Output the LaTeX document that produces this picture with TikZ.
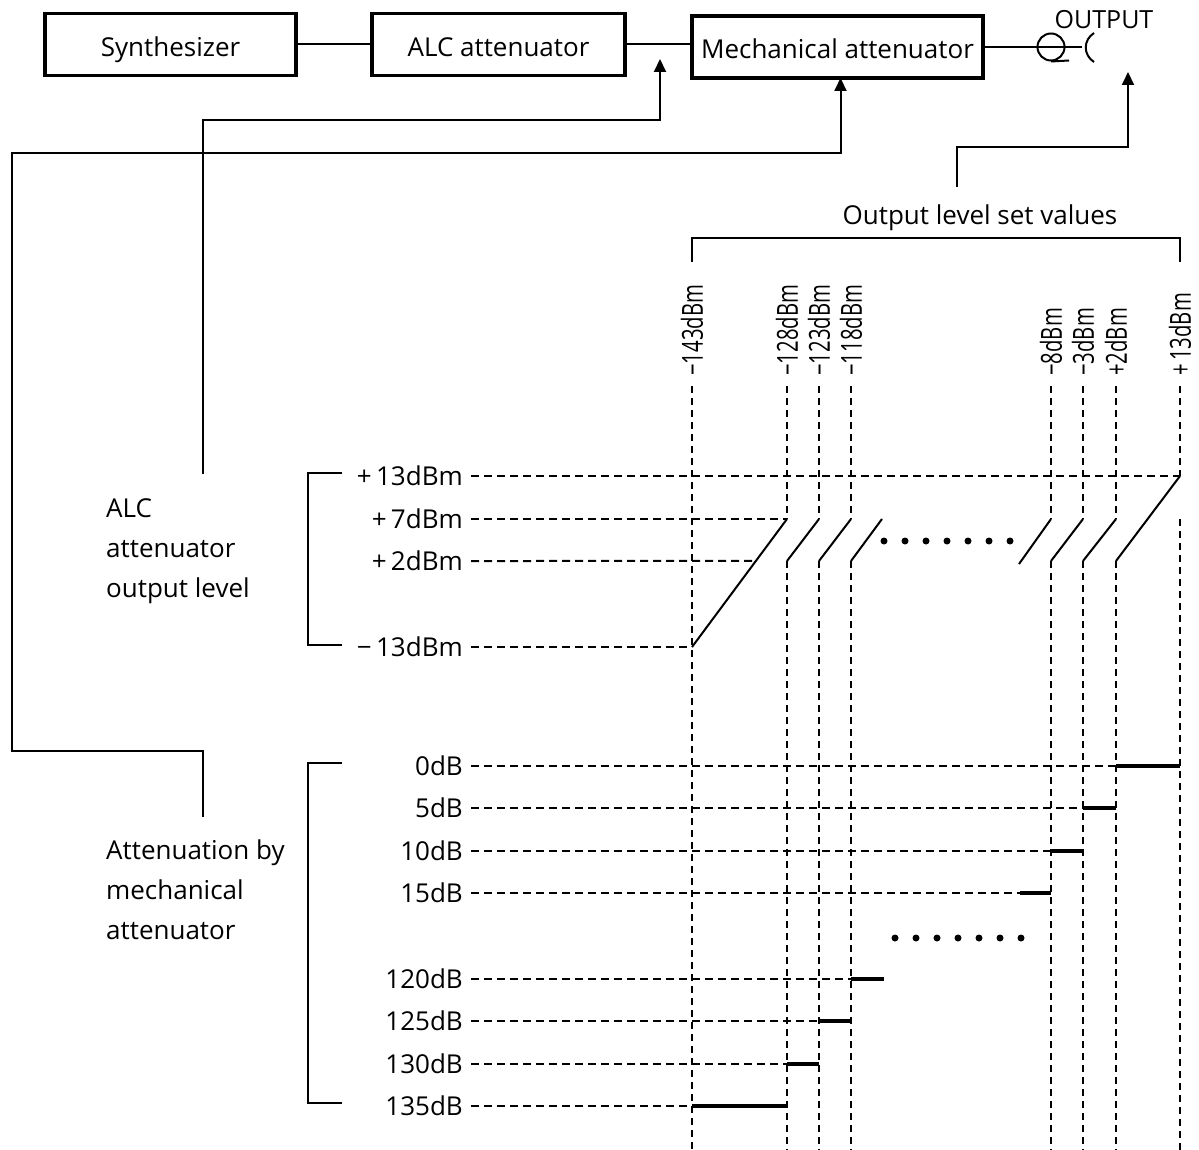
\documentclass[tikz,border=0pt]{standalone}
\usepackage{fontspec}
\setmainfont{Open Sans}
\usetikzlibrary{positioning, arrows.meta, calc}
\tikzset{
  block/.style={rectangle, draw=black, line width=3.8pt, minimum height=62pt, text height=24pt, text depth=0pt, text centered, inner sep=6pt, outer sep=0pt},
  wire/.style={line width=2pt},
  ctrl/.style={line width=2pt,-{Triangle[length=13pt,width=12pt]}},
  grid/.style={line width=2pt, dash pattern=on 8pt off 5pt},
  vgrid/.style={line width=2pt, dash pattern=on 7pt off 5pt},
  bar/.style={line width=3.8pt},
  lvl/.style={anchor=east, text height=19pt, text depth=0pt},
  collbl/.style={rotate=90, anchor=west, font=\fontsize{29pt}{32pt}\selectfont},
  dot/.style={circle, fill=black, minimum size=7pt}
}
\newcommand{\narrow}[1]{\scalebox{0.7}[1]{#1}}
\begin{document}
\begin{tikzpicture}[x=1pt, y=-1pt, every node/.style={font=\fontsize{26pt}{40pt}\selectfont, inner sep=0pt}]
        \useasboundingbox (0,0) rectangle (1199,1150);

        % Blocks
        \node (synth) [block, minimum width=251pt] at (170.5,44.5) {Synthesizer};
        \node (alc) [block, minimum width=253pt] at (498.5,44.5) {ALC attenuator};
        \node (mech) [block, minimum width=291pt] at (837.5,47) {Mechanical attenuator};
        \node (jack) [circle, draw, line width=2pt, minimum size=27pt] at (1051,47) {};
        \coordinate (plug) at (1082,47);
        \node (outlbl) [font=\fontsize{25pt}{30pt}\selectfont] at (1104,20) {OUTPUT};

        \draw [wire] (synth) -- (alc);
        \draw [wire] (alc.east) -- (alc.east -| mech.west);
        \draw [wire] (mech.east) -- (plug);
        \draw [wire] (jack.south) -- ++(18,-1);
        \draw [wire] (1094,33) .. controls (1083,40) and (1083,55) .. (1094,62);

        % Control connections
        \coordinate (alcin) at (660,59);
        \coordinate (alcfree) at (203,474);
        \coordinate (mechfree) at (203,817);
        \coordinate (outin) at (1128,72);
        \coordinate (outfree) at (957,187);
        \draw [ctrl] (alcfree) -- ++(0,-354) -| (alcin);
        \draw [ctrl] (mechfree) -- ++(0,-66) -- ++(-191,0) -- ++(0,-598) -| ([xshift=3pt]mech.south);
        \draw [ctrl] (outfree) -- ++(0,-40) -| (outin);

        % Output level set values
        \node (setlbl) at (980,218) {Output level set values};
        \foreach \n/\x/\t in {1/692/−143dBm, 2/787/−128dBm, 3/819/−123dBm, 4/851/−118dBm,
                              5/1051/−8dBm, 6/1083/−3dBm, 7/1116/+2dBm, 8/1180/+\,13dBm}
            \node (col\n) [collbl] at (\x,376) {\narrow{\t}};
        \draw [wire] (col1 |- 0,262) |- (col8 |- 0,238) -- (col8 |- 0,262);

        % Left labels
        \node (alclbl) [align=left, anchor=west] at (106,551) {ALC\\attenuator\\output level};
        \node (attlbl) [align=left, anchor=west] at (106,890) {Attenuation by\\mechanical\\attenuator};

        \node (lv13) [lvl] at (463,476) {+\,13dBm};
        \node (lv7) [lvl] at (463,519) {+\,7dBm};
        \node (lv2) [lvl] at (463,561) {+\,2dBm};
        \node (lvm13) [lvl] at (463,647) {−\,13dBm};
        \draw [wire] (342,473) -| (308,645) -- (342,645);

        \node (at0) [lvl] at (463,766) {0dB};
        \node (at5) [lvl] at (463,808) {5dB};
        \node (at10) [lvl] at (463,851) {10dB};
        \node (at15) [lvl] at (463,893) {15dB};
        \node (at120) [lvl] at (463,979) {120dB};
        \node (at125) [lvl] at (463,1021) {125dB};
        \node (at130) [lvl] at (463,1064) {130dB};
        \node (at135) [lvl] at (463,1106) {135dB};
        \draw [wire] (342,763) -| (308,1103) -- (342,1103);

        % Vertical dashed lines
        \draw [vgrid] (col1 |- 0,386) -- (col1 |- 0,1150);
        \foreach \n in {2,...,7} {
            \draw [vgrid] (col\n |- 0,386) -- (col\n |- lv7);
            \draw [vgrid] (col\n |- lv2) -- (col\n |- 0,1150);
        }
        \draw [vgrid] (col8 |- 0,386) -- (col8 |- lv13);
        \draw [vgrid] (col8 |- lv7) -- (col8 |- 0,1150);

        % ALC level slopes
        \draw [wire] (col1 |- lvm13) -- coordinate[pos=0.672] (cross) (col2 |- lv7);
        \draw [wire] (col2 |- lv2) -- (col3 |- lv7);
        \draw [wire] (col3 |- lv2) -- (col4 |- lv7);
        \draw [wire] (col4 |- lv2) -- ++(31,-42);
        \draw [wire] (col5 |- lv7) -- ++(-32,45);
        \draw [wire] (col5 |- lv2) -- (col6 |- lv7);
        \draw [wire] (col6 |- lv2) -- (col7 |- lv7);
        \draw [wire] (col7 |- lv2) -- (col8 |- lv13);

        \draw [grid] ([xshift=8pt]lv13.east) -- (lv13 -| col8);
        \draw [grid] ([xshift=8pt]lv7.east) -- (lv7 -| col2);
        \draw [grid] ([xshift=8pt]lv2.east) -- (cross);
        \draw [grid] ([xshift=8pt]lvm13.east) -- (lvm13 -| col1);

        % Attenuation steps
        \draw [bar] (at0 -| col7) -- (at0 -| col8);
        \draw [bar] (at5 -| col6) -- (at5 -| col7);
        \draw [bar] (at10 -| col5) -- (at10 -| col6);
        \draw [bar] (at15 -| col5) -- ++(-31,0) coordinate (b15);
        \draw [bar] (at120 -| col4) -- ++(33,0);
        \draw [bar] (at125 -| col3) -- (at125 -| col4);
        \draw [bar] (at130 -| col2) -- (at130 -| col3);
        \draw [bar] (at135 -| col1) -- (at135 -| col2);

        \draw [grid] ([xshift=8pt]at0.east) -- (at0 -| col7);
        \draw [grid] ([xshift=8pt]at5.east) -- (at5 -| col6);
        \draw [grid] ([xshift=8pt]at10.east) -- (at10 -| col5);
        \draw [grid] ([xshift=8pt]at15.east) -- (b15);
        \draw [grid] ([xshift=8pt]at120.east) -- (at120 -| col4);
        \draw [grid] ([xshift=8pt]at125.east) -- (at125 -| col3);
        \draw [grid] ([xshift=8pt]at130.east) -- (at130 -| col2);
        \draw [grid] ([xshift=8pt]at135.east) -- (at135 -| col1);

        % Dots
        \foreach \i in {0,...,6} {
            \node (dota\i) [dot] at (884+21*\i,541) {};
            \node (dotb\i) [dot] at (895+21*\i,938) {};
        }
    \end{tikzpicture}
\end{document}
